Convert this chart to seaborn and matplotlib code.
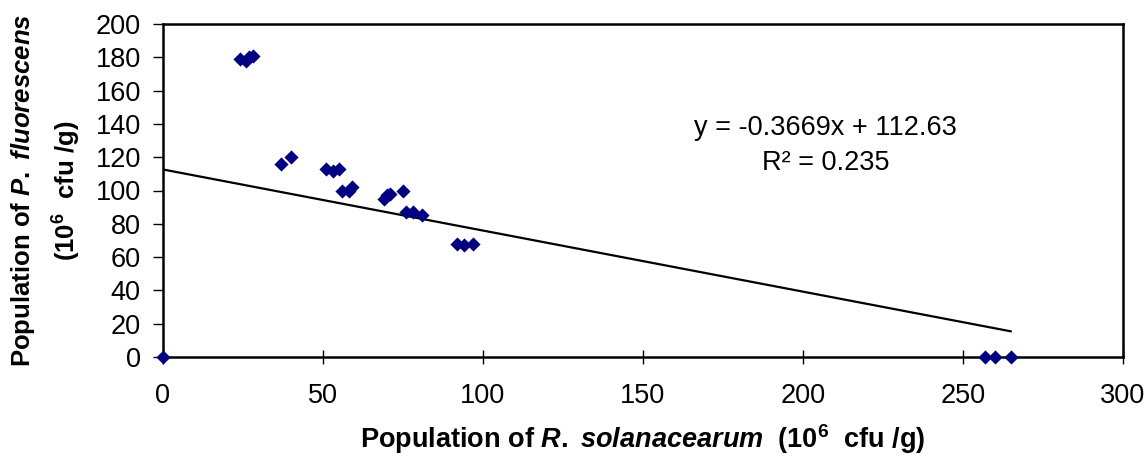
import matplotlib
matplotlib.use("Agg")
import matplotlib.pyplot as plt
import seaborn as sns
import numpy as np
import pandas as pd

# Data
rs_population = [0, 24, 26, 27, 28, 37, 40, 51, 53, 55, 56, 58, 59, 69, 70, 71, 75, 76, 78, 81, 92, 94, 97, 257, 260, 265]
pf_population = [0, 179, 178, 180, 181, 116, 120, 113, 112, 113, 100, 100, 102, 95, 97, 98, 100, 87, 87, 85, 68, 67, 68, 0, 0, 0]
slope = -0.3669
intercept = 112.63
r_squared = 0.235
x_ticks = [0, 50, 100, 150, 200, 250, 300]
y_ticks = [0, 20, 40, 60, 80, 100, 120, 140, 160, 180, 200]

sns.set_theme(style="white")
plt.rcParams['font.family'] = ['Liberation Sans', 'DejaVu Sans']
plt.rcParams['mathtext.fontset'] = 'custom'
plt.rcParams['mathtext.rm'] = 'Liberation Sans:bold'
plt.rcParams['mathtext.bf'] = 'Liberation Sans:bold'
plt.rcParams['mathtext.it'] = 'Liberation Sans:bold:italic'
for key in ['text.color', 'axes.labelcolor', 'xtick.color', 'ytick.color']:
    plt.rcParams[key] = 'black'

df = pd.DataFrame({"rs": rs_population, "pf": pf_population})

fig = plt.figure(figsize=(11.48, 4.55), dpi=100)
ax = fig.add_axes([163 / 1148, 1 - 357 / 455, (1123 - 163) / 1148, (357 - 24) / 455])

# Trend line
line_x = np.array([min(rs_population), max(rs_population)])
line_df = pd.DataFrame({"x": line_x, "y": slope * line_x + intercept})
sns.lineplot(data=line_df, x="x", y="y", ax=ax, color="black", linewidth=1.6, zorder=2)

sns.scatterplot(data=df, x="rs", y="pf", ax=ax, marker="D", s=52, color="#000080",
                edgecolor="#000080", linewidth=0, zorder=3, clip_on=False)

FS = 19.5
ax.set_xlim(0, 300)
ax.set_ylim(0, 200)
ax.set_xticks(x_ticks)
ax.set_yticks(y_ticks)
ax.set_xticklabels([str(t) for t in x_ticks], fontsize=FS)
ax.set_yticklabels([str(t) for t in y_ticks], fontsize=FS)
ax.tick_params(axis="x", direction="inout", length=10, width=1, color="black", pad=14, bottom=True)
ax.tick_params(axis="y", direction="out", length=7, width=1, color="black", pad=9, left=True)

for side in ["left", "bottom", "top", "right"]:
    ax.spines[side].set_visible(True)
    ax.spines[side].set_color("black")
    ax.spines[side].set_linewidth(1.8)

ax.set_xlabel(r"Population of $\mathit{R.}$ $\mathit{solanacearum}$  (10$^{6}$  cfu /g)",
              fontsize=FS, fontweight="bold", labelpad=0)
ax.xaxis.set_label_coords(0.5, -0.195)
ax.set_ylabel("Population of $\\mathit{P.}$ $\\mathit{fluorescens}$\n(10$^{6}$  cfu /g)",
              fontsize=18.5, fontweight="bold", linespacing=1.55)
ax.yaxis.set_label_coords(-0.083, 0.5)

ax.text(207, 137.4, "y = -0.3669x + 112.63", fontsize=FS, ha="center", va="center")
ax.text(207, 116.4, "R² = 0.235", fontsize=FS, ha="center", va="center")

fig.savefig("out.png", dpi=100)
